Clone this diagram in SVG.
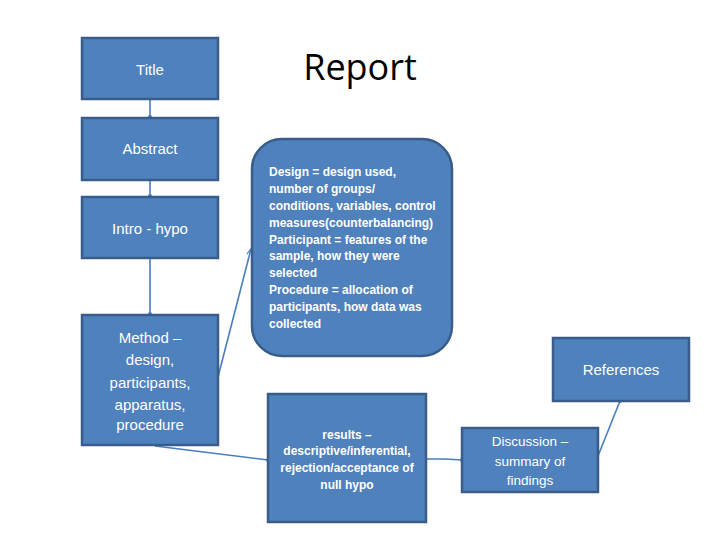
<svg xmlns="http://www.w3.org/2000/svg" width="720" height="540" viewBox="0 0 720 540">
<defs>
<style>
.box{fill:#4F81BD;stroke:#385D8A;stroke-width:2.5}
.t{fill:#ffffff;font-family:"Liberation Sans",Arial,sans-serif;text-anchor:middle}
.tl{fill:#ffffff;font-family:"Liberation Sans",Arial,sans-serif;font-size:12px;font-weight:bold}
.c{stroke:#4A7EBB;stroke-width:1.6;fill:none}
</style>
<marker id="arr" viewBox="0 0 10 10" refX="9" refY="5" markerWidth="7" markerHeight="7" orient="auto" markerUnits="userSpaceOnUse">
<path d="M0,1 L10,5 L0,9" fill="none" stroke="#4A7EBB" stroke-width="1.5"/>
</marker>
<marker id="dot" viewBox="0 0 6 6" refX="3" refY="3" markerWidth="4" markerHeight="4" markerUnits="userSpaceOnUse">
<circle cx="3" cy="3" r="3" fill="#4A7EBB"/>
</marker>
</defs>
<rect width="720" height="540" fill="#ffffff"/>
<text x="360" y="80" font-family="'Open Sans','Liberation Sans',sans-serif" font-size="36" text-anchor="middle" fill="#000000">Report</text>
<g id="connectors">
<line class="c" x1="150" y1="100" x2="150" y2="117" marker-end="url(#dot)"/>
<line class="c" x1="150" y1="181" x2="150" y2="196" marker-end="url(#dot)"/>
<line class="c" x1="150" y1="259" x2="150" y2="314" marker-end="url(#dot)"/>
<line class="c" x1="218" y1="377" x2="251" y2="249" marker-end="url(#arr)"/>
<line class="c" x1="155" y1="446" x2="268" y2="460" marker-end="url(#dot)"/>
<polyline class="c" points="427,459 445,459 462,460" marker-end="url(#dot)"/>
<line class="c" x1="598" y1="456" x2="620" y2="401" marker-end="url(#dot)"/>
</g>
<g id="title"><rect class="box" x="82" y="38" width="136" height="61"/><text class="t" x="150" y="75" font-size="15">Title</text></g>
<g id="abstract"><rect class="box" x="82" y="118" width="136" height="62"/><text class="t" x="150" y="154" font-size="15">Abstract</text></g>
<g id="intro"><rect class="box" x="82" y="197" width="136" height="61"/><text class="t" x="150" y="234" font-size="15">Intro - hypo</text></g>
<g id="method"><rect class="box" x="82" y="315" width="136" height="130"/>
<text class="t" font-size="15"><tspan x="150" y="343">Method –</tspan><tspan x="150" y="365">design,</tspan><tspan x="150" y="388">participants,</tspan><tspan x="150" y="410">apparatus,</tspan><tspan x="150" y="430">procedure</tspan></text></g>
<g id="method-detail"><rect class="box" x="252" y="139" width="200" height="217" rx="30" ry="30"/>
<text class="tl"><tspan x="269" y="176">Design = design used,</tspan><tspan x="269" y="193">number of groups/</tspan><tspan x="269" y="210">conditions, variables, control</tspan><tspan x="269" y="227">measures(counterbalancing)</tspan><tspan x="269" y="244">Participant = features of the</tspan><tspan x="269" y="260">sample, how they were</tspan><tspan x="269" y="277">selected</tspan><tspan x="269" y="294">Procedure = allocation of</tspan><tspan x="269" y="311">participants, how data was</tspan><tspan x="269" y="328">collected</tspan></text></g>
<g id="results"><rect class="box" x="268" y="394" width="158" height="128"/>
<text class="t" font-size="12" font-weight="bold"><tspan x="347" y="439">results –</tspan><tspan x="347" y="455">descriptive/inferential,</tspan><tspan x="347" y="472">rejection/acceptance of</tspan><tspan x="347" y="489">null hypo</tspan></text></g>
<g id="discussion"><rect class="box" x="462" y="428" width="136" height="64"/>
<text class="t" font-size="13.5"><tspan x="530" y="446">Discussion –</tspan><tspan x="530" y="466">summary of</tspan><tspan x="530" y="485">findings</tspan></text></g>
<g id="references"><rect class="box" x="553" y="338" width="136" height="63"/><text class="t" x="621" y="375" font-size="15">References</text></g>
</svg>
